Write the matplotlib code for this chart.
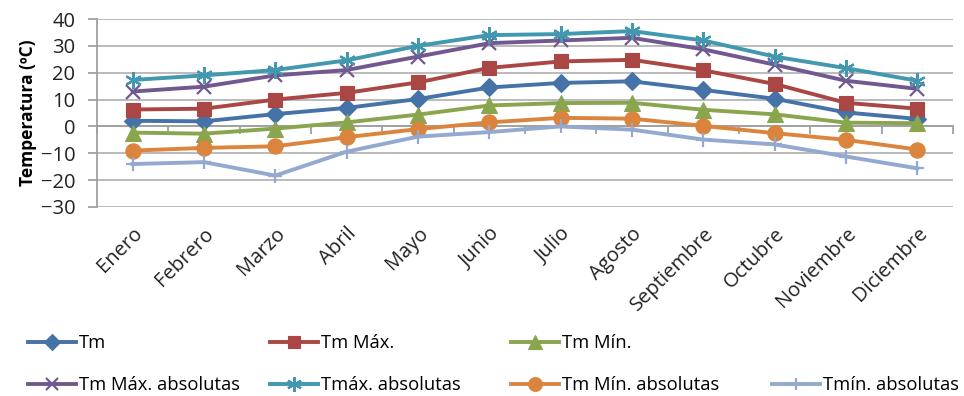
import matplotlib
matplotlib.use('Agg')
import matplotlib.pyplot as plt

plt.rcParams['font.family'] = ['Open Sans', 'DejaVu Sans']

# Datos (ºC)
meses = ['Enero', 'Febrero', 'Marzo', 'Abril', 'Mayo', 'Junio', 'Julio',
         'Agosto', 'Septiembre', 'Octubre', 'Noviembre', 'Diciembre']
tm = [2.1, 1.9, 4.6, 6.9, 10.2, 14.5, 16.2, 16.8, 13.6, 10.3, 5.2, 2.8]
tm_max = [6.3, 6.6, 10.0, 12.5, 16.4, 21.8, 24.2, 24.8, 20.9, 15.8, 8.8, 6.6]
tm_min = [-2.3, -2.7, -0.8, 1.5, 4.4, 7.8, 8.7, 8.8, 6.2, 4.5, 1.4, 1.2]
tm_max_abs = [13.0, 14.8, 19.0, 21.0, 26.0, 31.0, 32.0, 33.0, 28.7, 23.0, 17.0, 14.0]
tmax_abs = [17.3, 19.0, 21.0, 24.6, 30.0, 34.0, 34.4, 35.5, 32.0, 26.0, 21.7, 17.0]
tm_min_abs = [-9.0, -8.0, -7.4, -4.0, -1.0, 1.5, 3.2, 2.9, 0.2, -2.5, -5.0, -8.6]
tmin_abs = [-14.0, -13.3, -18.3, -9.4, -3.8, -2.1, 0.0, -1.2, -4.9, -6.7, -11.2, -15.6]

series = [
    ('Tm', tm, '#4572A7', 'D', 9),
    ('Tm Máx.', tm_max, '#AA4643', 's', 10),
    ('Tm Mín.', tm_min, '#89A54E', '^', 11),
    ('Tm Máx. absolutas', tm_max_abs, '#71588F', 'x', 10),
    ('Tmáx. absolutas', tmax_abs, '#4198AF', (6, 2, 0), 12),
    ('Tm Mín. absolutas', tm_min_abs, '#DB843D', 'o', 11),
    ('Tmín. absolutas', tmin_abs, '#93A9CF', '+', 10),
]

fig = plt.figure(figsize=(9.64, 3.96), dpi=100)
ax = fig.add_axes([0.1006, 0.4773, 0.888, 0.4747])

x = list(range(len(meses)))
handles = []
for nombre, valores, color, marcador, tam in series:
    linea, = ax.plot(x, valores, color=color, lw=2.8, marker=marcador,
                     markersize=tam, markeredgewidth=1.6 if marcador in ('x', '+', (6, 2, 0)) else 0.8,
                     markeredgecolor=color, label=nombre, zorder=3)
    handles.append(linea)

ax.set_xlim(-0.5, len(meses) - 0.5)
ax.set_ylim(-30, 40)
ax.set_yticks(range(-30, 41, 10))
ax.grid(axis='y', color='#b5b5b5', lw=1.3)
ax.set_axisbelow(True)

for lado in ['top', 'right']:
    ax.spines[lado].set_visible(False)
ax.spines['left'].set_color('#a0a0a0')
ax.spines['left'].set_linewidth(1.3)
ax.spines['bottom'].set_position(('data', 0))
ax.spines['bottom'].set_color('#a0a0a0')
ax.spines['bottom'].set_linewidth(1.3)

ax.tick_params(axis='y', length=6.5, width=1.3, color='#a0a0a0', labelsize=14.5,
               pad=9, labelcolor='#222222')
ax.set_xticks(x)
ax.tick_params(axis='x', which='major', length=0, labelbottom=False)
ax.set_xticks([i - 0.5 for i in range(len(meses) + 1)], minor=True)
ax.tick_params(axis='x', which='minor', length=6, width=1.3, color='#a0a0a0')

sec = ax.secondary_xaxis('bottom')
sec.spines['bottom'].set_visible(False)
sec.set_xticks(x, labels=meses)
sec.tick_params(length=0, pad=12, labelsize=14.5, labelcolor='#222222')
for t in sec.get_xticklabels():
    t.set_rotation(45)
    t.set_ha('right')
    t.set_rotation_mode('anchor')

ax.set_ylabel('Temperatura (ºC)', fontsize=12.5, fontweight='bold', labelpad=3)

# leyenda en dos filas, como en el original
posiciones = [(28, 343), (270, 343), (511, 343),
              (28, 385), (270, 385), (511, 385), (772, 385)]
for h, (px, py) in zip(handles, posiciones):
    fig.legend(handles=[h], loc='center left',
               bbox_to_anchor=(px / 964, 1 - py / 396), frameon=False,
               borderpad=0, borderaxespad=0, handlelength=2.6,
               handletextpad=0.2, fontsize=13.2, markerscale=0.9)

fig.savefig('out.png', dpi=100)
